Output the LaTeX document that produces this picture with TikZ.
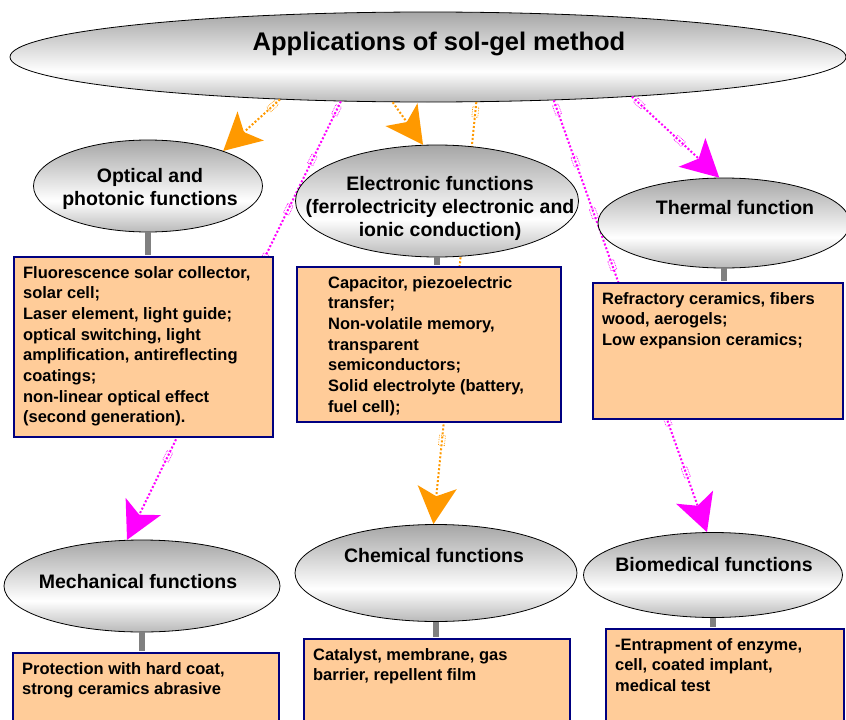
\documentclass[tikz,border=0pt]{standalone}
\usepackage{fontspec}
\setmainfont{Liberation Sans}
\usetikzlibrary{positioning, arrows.meta, shapes.geometric, decorations.markings}

\definecolor{linkorange}{HTML}{FF9900}
\definecolor{linkmagenta}{HTML}{FF00FF}
\definecolor{boxfill}{HTML}{FFCC99}
\definecolor{boxborder}{HTML}{000080}
\pgfdeclareverticalshading{ellshade}{100bp}{color(0bp)=(gray!55); color(25bp)=(gray!55); color(42bp)=(white); color(75bp)=(gray!70); color(100bp)=(gray!70)}

\newcommand{\infotext}[3]{\parbox[c][#1][t]{#2}{\raggedright #3}}

\begin{document}
\begin{tikzpicture}
    [
        x=1pt, y=-1pt,
        gray_ellipse/.style={ellipse, draw=black, line width=0.8pt, shading=ellshade, inner sep=0pt},
        title_text/.style={font=\fontsize{25.5}{30}\selectfont\bfseries},
        func_text/.style={font=\fontsize{19.5}{23}\selectfont\bfseries, align=center},
        info_box/.style={rectangle, draw=boxborder, fill=boxfill, line width=2.2pt, anchor=north west, inner xsep=9pt, inner ysep=9pt, font=\fontsize{16.5}{20.7}\selectfont\bfseries},
        stub_line/.style={line width=6pt, color=gray, shorten >=1.1pt},
        link_marks/.style={postaction={decorate}, decoration={markings, mark=between positions 10pt and -45pt step 55pt with {\draw[-, line width=0.7pt, densely dotted] (-5pt,-3pt) rectangle (5pt,3pt);}}},
        orange_link/.style={line width=2pt, color=linkorange, dash pattern=on 2pt off 2pt, link_marks, -{Stealth[length=37pt, width=39pt, inset=9pt]}},
        magenta_link/.style={line width=2pt, color=linkmagenta, dash pattern=on 2pt off 2pt, link_marks, -{Stealth[length=37pt, width=39pt, inset=9pt]}},
    ]
        \useasboundingbox (0,0) rectangle (846,720) ;
        \clip (0,0) rectangle (846,720) ;

        % main ellipse
        \node[gray_ellipse, minimum width=836pt, minimum height=90pt] (app) at (428,57) {} ;
        \node[title_text] (app_t) at (439,44) {Applications of sol-gel method} ;

        % bottom row
        \node[gray_ellipse, minimum width=276pt, minimum height=92pt] (mech) at (142,586) {} ;
        \node[func_text] (mech_t) at (138,582) {Mechanical functions} ;
        \node[gray_ellipse, minimum width=282pt, minimum height=97pt] (chem) at (436,573) {} ;
        \node[func_text] (chem_t) at (434,556) {Chemical functions} ;
        \node[gray_ellipse, minimum width=259pt, minimum height=85pt] (bio) at (713,575) {} ;
        \node[func_text] (bio_t) at (714,565) {Biomedical functions} ;

        \node[info_box] (mechbox) at (12,652) {\infotext{62pt}{248pt}{Protection with hard coat,\\ strong ceramics abrasive}} ;
        \node[info_box] (chembox) at (303,638) {\infotext{72pt}{248pt}{Catalyst, membrane, gas\\ barrier, repellent film}} ;
        \node[info_box] (biobox) at (605,628) {\infotext{82pt}{220pt}{-Entrapment of enzyme,\\ cell, coated implant,\\ medical test}} ;

        \draw[stub_line] (mech.south) -- (mech.south |- mechbox.north) ;
        \draw[stub_line] (chem.south) -- (chem.south |- chembox.north) ;
        \draw[stub_line] (bio.south) -- (bio.south |- biobox.north) ;

        % long links (behind the top row)
        \draw[magenta_link] (app.207.4) -- (mech.108.8) ;
        \draw[orange_link] (app.-43.6) -- (chem.93.6) ;
        \draw[magenta_link] (app.-19.4) -- (bio.98.1) ;

        % top row
        \node[gray_ellipse, minimum width=229pt, minimum height=92pt] (opt) at (148,186) {} ;
        \node[func_text] (opt_t) at (150,189) {Optical and\\ photonic functions} ;
        \node[gray_ellipse, minimum width=283pt, minimum height=112pt] (elec) at (437,201) {} ;
        \node[func_text] (elec_t) at (440,208) {Electronic functions\\ (ferrolectricity electronic and\\ ionic conduction)} ;
        \node[gray_ellipse, minimum width=252pt, minimum height=90pt] (therm) at (724,223) {} ;
        \node[func_text] (therm_t) at (735,208) {Thermal function} ;

        \node[info_box] (optbox) at (13,256) {\infotext{162pt}{241pt}{Fluorescence solar collector,\\ solar cell;\\ Laser element, light guide;\\ optical switching, light\\ amplification, antireflecting\\ coatings;\\ non-linear optical effect\\ (second generation).}} ;
        \node[info_box] (elecbox) at (296,266) {\infotext{137pt}{246pt}{\leftskip=22pt Capacitor, piezoelectric\\ transfer;\\ Non-volatile memory,\\ transparent\\ semiconductors;\\ Solid electrolyte (battery,\\ fuel cell);}} ;
        \node[info_box] (thermbox) at (592,282) {\infotext{118pt}{232pt}{Refractory ceramics, fibers\\ wood, aerogels;\\ Low expansion ceramics;}} ;

        \draw[stub_line] (opt.south) -- (opt.south |- optbox.north) ;
        \draw[stub_line] (elec.south) -- (elec.south |- elecbox.north) ;
        \draw[stub_line] (therm.south) -- (therm.south |- thermbox.north) ;

        % short links
        \draw[orange_link] (app.196.5) -- (opt.25.3) ;
        \draw[orange_link] (app.232.1) -- (elec.104.5) ;
        \draw[magenta_link] (app.-11.9) -- (therm.96) ;
\end{tikzpicture}
\end{document}
